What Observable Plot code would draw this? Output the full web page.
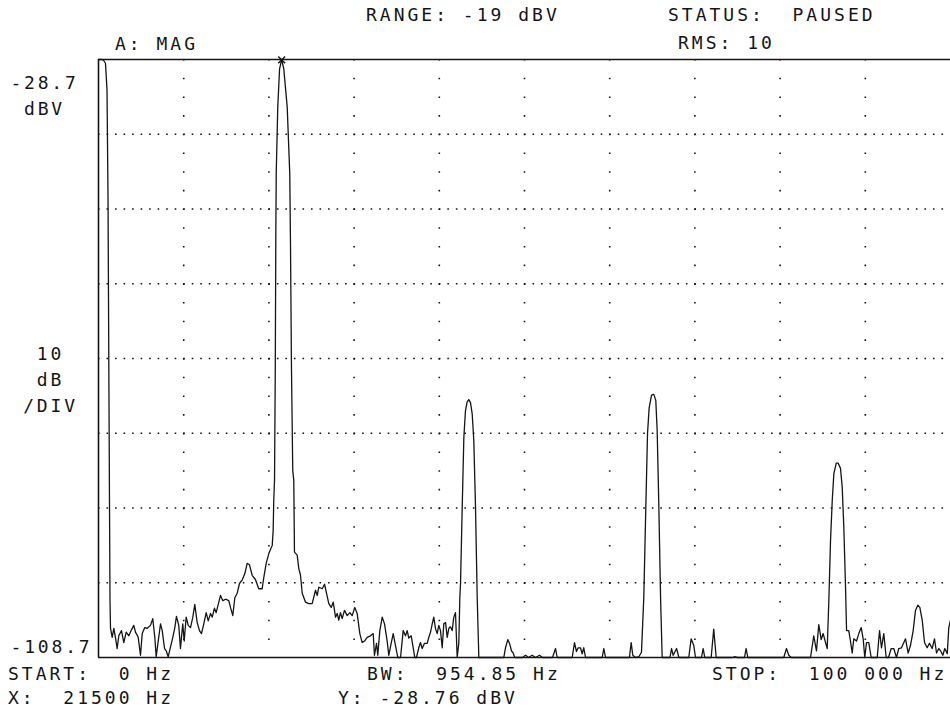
<!DOCTYPE html>
<html><head><meta charset="utf-8">
<script src="https://cdn.jsdelivr.net/npm/d3@7"></script>
<script src="https://cdn.jsdelivr.net/npm/@observablehq/plot@0.6"></script>
<style>
body{margin:0;background:#fff}
#wrap{position:relative;width:950px;height:713px;overflow:hidden;background:#fff}
#chart{position:absolute;left:0;top:0}
.lbl{position:absolute;white-space:pre;font-family:"DejaVu Sans Mono",monospace;font-size:18px;letter-spacing:3px;line-height:18px;color:#151515}
</style></head><body>
<div id="wrap"><div id="chart"></div></div>
<script>
// ---- DATA: spectrum trace as [frequency kHz, level dBV] ----
const traceDcAndFundamental = [
  [0,-28.7],[0.35,-28.7],[0.59,-28.8],[0.82,-29.2],[1.0,-32.8],[1.12,-47.6],[1.23,-74.3],[1.35,-101.1],[1.41,-104.8],[1.61,-106.0],
  [1.80,-104.8],[2.0,-106.1],[2.19,-107.5],[2.38,-105.8],[2.70,-105.1],[2.97,-106.7],[3.25,-105.3],[3.56,-105.8],[3.87,-105.0],[4.14,-104.4],
  [4.34,-105.3],[4.66,-106.0],[4.93,-108.4],[5.13,-105.5],[5.43,-104.7],[5.72,-104.8],[6.10,-104.4],[6.37,-103.5],[6.61,-106.0],[6.77,-108.6],
  [7.01,-106.5],[7.28,-104.2],[7.48,-105.1],[7.75,-107.5],[7.95,-107.8],[8.18,-108.6],[8.45,-107.3],[8.72,-106.0],[8.96,-104.7],[9.15,-103.2],
  [9.42,-104.4],[9.62,-107.5],[9.89,-104.2],[10.06,-106.5],[10.29,-103.3],[10.53,-104.4],[10.80,-104.7],[11.07,-103.3],[11.30,-101.6],[11.58,-104.0],
  [11.85,-105.1],[12.09,-105.5],[12.36,-104.2],[12.64,-102.7],[12.88,-103.8],[13.15,-102.8],[13.35,-103.3],[13.61,-102.1],[13.81,-102.7],[14.12,-101.3],
  [14.32,-100.4],[14.59,-101.1],[14.91,-100.9],[15.29,-101.1],[15.49,-102.0],[15.76,-103.1],[16.0,-100.7],[16.28,-100.1],[16.55,-98.8],[16.87,-98.3],
  [17.17,-97.5],[17.45,-96.1],[17.72,-96.3],[18.04,-97.7],[18.43,-98.3],[18.81,-99.5],[19.21,-99.5],[19.40,-98.0],[19.68,-96.1],[19.99,-94.8],
  [20.39,-93.7],[20.50,-91.7],[20.57,-87.7],[20.66,-85.0],[20.75,-70.0],[20.81,-52.9],[20.86,-44.0],[21.04,-35.1],[21.25,-30.0],[21.5,-28.7],
  [21.75,-30.0],[22.15,-35.1],[22.45,-44.0],[22.53,-52.9],[22.65,-70.0],[22.80,-83.7],[22.92,-85.0]
];
const traceNoiseBand = [
  [23.0,-94.6],[23.32,-95.0],[23.51,-96.8],[23.71,-97.7],[23.91,-100.1],[24.30,-101.3],[24.68,-101.5],[25.08,-101.5],[25.47,-99.7],[25.67,-100.4],
  [25.86,-99.3],[26.26,-99.5],[26.53,-98.9],[26.76,-100.1],[27.03,-101.5],[27.31,-102.0],[27.55,-101.3],[27.82,-103.3],[28.02,-102.8],[28.20,-103.7],
  [28.40,-102.7],[28.60,-103.5],[28.87,-102.4],[29.19,-103.1],[29.50,-102.7],[29.78,-103.1],[30.08,-102.0],[30.36,-102.8],[30.67,-105.5],[30.95,-106.7],
  [31.22,-106.5],[31.54,-106.0],[31.92,-105.8],[32.24,-105.5],[32.39,-108.4],[32.63,-106.8],[32.78,-108.4],[33.02,-105.1],[33.30,-103.3],[33.57,-104.2],
  [33.88,-106.5],[34.07,-108.4],[34.35,-106.8],[34.59,-105.5],[34.86,-107.1],[35.13,-108.7],[35.45,-108.7],[35.76,-105.1],[36.03,-105.8],[36.23,-105.1],
  [36.42,-106.1],[36.70,-105.8],[36.94,-107.4],[37.12,-108.7],[37.32,-108.7],[37.59,-107.4],[37.79,-106.7],[37.99,-107.5],[38.26,-106.8],[38.58,-106.8],
  [38.77,-106.0],[38.97,-105.3],[39.17,-104.2],[39.35,-103.3],[39.55,-104.8],[39.75,-105.5],[39.94,-104.4],[40.14,-105.1],[40.34,-107.4],[40.53,-104.2],
  [40.73,-104.0],[40.93,-106.0],[41.12,-104.8],[41.31,-104.6],[41.51,-105.1],[41.70,-103.3],[41.90,-102.7],[42.10,-108.7],[42.29,-106.8]
];
const traceSecondHarmonic = [
  [42.41,-100.7],[42.49,-98.8],[42.69,-88.6],[42.88,-79.3],[43.07,-75.7],[43.27,-74.5],[43.46,-74.2],[43.66,-74.6],[43.86,-76.1],[44.05,-79.7],
  [44.25,-88.6],[44.45,-100.7],[44.64,-108.7],[47.57,-108.7],[47.77,-107.4],[48.04,-106.3],[48.27,-106.9],[48.47,-107.8],[48.67,-108.1],[48.86,-108.7],
  [49.76,-108.7],[50.12,-108.4],[50.47,-108.7],[50.90,-108.4],[51.29,-108.7],[51.76,-108.4],[52.11,-108.7],[53.29,-108.7],[53.64,-107.5],[53.84,-108.7],
  [55.60,-108.7],[55.87,-106.7],[56.10,-107.9],[56.30,-107.4],[56.57,-107.4],[56.77,-108.2],[56.96,-107.4],[57.16,-108.7],[59.12,-108.7],[59.31,-107.5],
  [59.51,-108.7],[62.32,-108.7],[62.52,-106.7],[62.71,-108.4],[63.03,-108.7],[63.42,-108.6],[63.73,-108.0]
];
const traceThirdHarmonic = [
  [64.0,-100.7],[64.24,-88.6],[64.44,-78.7],[64.63,-75.3],[64.91,-73.6],[65.18,-73.5],[65.41,-74.3],[65.57,-78.3],[65.77,-88.6],[65.97,-100.7],
  [66.16,-108.7],[67.07,-108.7],[67.26,-107.5],[67.45,-108.4],[67.85,-107.5],[68.12,-108.7],[69.28,-108.7],[69.56,-106.2],[69.87,-107.1],[70.07,-108.7],
  [70.77,-108.7],[70.97,-107.5],[71.16,-108.7],[71.91,-108.7],[72.21,-104.9],[72.50,-108.7],[74.37,-108.7],[74.65,-108.6],[75.0,-108.7],[75.82,-108.7],
  [76.01,-107.5],[76.21,-108.7],[80.43,-108.7],[80.75,-107.5],[81.02,-108.4],[81.30,-108.7],[83.57,-108.7],[83.95,-105.8],[84.27,-107.8],[84.54,-104.3],
  [84.82,-106.3],[85.06,-105.5],[85.33,-106.7],[85.53,-107.5]
];
const traceFourthHarmonic = [
  [85.72,-101.1],[85.92,-93.0],[86.12,-87.7],[86.31,-84.1],[86.59,-82.7],[86.82,-82.7],[87.09,-83.4],[87.29,-85.9],[87.48,-91.3],[87.68,-99.3],
  [87.80,-105.1],[88.06,-105.1],[88.26,-106.5],[88.46,-108.1],[88.65,-106.2],[88.97,-106.5],[89.24,-105.5],[89.52,-104.7],[89.75,-106.2],[89.94,-108.7],
  [90.14,-106.7],[90.41,-106.7],[90.69,-108.7],[91.40,-108.7],[91.67,-105.1],[91.90,-107.4],[92.17,-105.5],[92.45,-108.7],[92.72,-108.7],[93.04,-107.5],
  [93.34,-107.5],[93.66,-108.7],[93.93,-107.5],[94.25,-107.4],[94.72,-106.2],[95.03,-108.1],[95.30,-107.1],[95.62,-105.1],[95.89,-102.4],[96.16,-101.7],
  [96.40,-102.0],[96.68,-103.7],[96.95,-106.7],[97.26,-107.4],[97.53,-106.8],[97.85,-107.5],[98.12,-106.2],[98.36,-108.1],[98.63,-107.5],[98.83,-107.8],
  [99.10,-108.4],[99.33,-107.5],[99.62,-108.2],[99.80,-104.7],[100.0,-103.7]
];
// marker (X / Y readout)
const markerKHz = [21.5];
const markerDbv = [-28.76];
// scale / grid ticks
const xDomainKHz = [0, 100];
const yDomainDbv = [-108.7, -28.7];
const xGridKHz = [10, 20, 30, 40, 50, 60, 70, 80, 90];
const yGridDbv = [-38.7, -48.7, -58.7, -68.7, -78.7, -88.7, -98.7];
const yTopTick = [-28.7], yMidTick = [-68.7], yBottomTick = [-108.7];
const yTopLabel = "-28.7\ndBV", yMidLabel = "10\ndB\n/DIV", yBottomLabel = "-108.7";
// readout texts
const headerTexts = ["RANGE: -19 dBV", "STATUS:  PAUSED", "A: MAG", "RMS: 10"];
const footerTexts = ["START:  0 Hz", "BW:  954.85 Hz", "STOP:  100 000 Hz", "X:  21500 Hz", "Y: -28.76 dBV"];

// ---- BUILD ----
const trace = [...traceDcAndFundamental, ...traceNoiseBand, ...traceSecondHarmonic, ...traceThirdHarmonic, ...traceFourthHarmonic]
  .map(([f, v]) => ({f, v}));
const marker = markerKHz.map((f, i) => ({f, v: markerDbv[i]}));
const ink = "#151515";
const font = "DejaVu Sans Mono";

const chart = Plot.plot({
  width: 950, height: 713,
  marginLeft: 98, marginRight: 0, marginTop: 59, marginBottom: 56,
  x: {domain: xDomainKHz, axis: null},
  y: {domain: yDomainDbv},
  style: {fontFamily: font, fontSize: "18px", letterSpacing: "2.8px", background: "#fff", color: ink},
  marks: [
    Plot.ruleY(yGridDbv, {stroke: ink, strokeWidth: 1.6, strokeDasharray: "1.6,6.92"}),
    Plot.ruleX(xGridKHz, {stroke: ink, strokeWidth: 1.6, strokeDasharray: "1.6,17.09"}),
    Plot.ruleY(yDomainDbv, {stroke: ink, strokeWidth: 1.6}),
    Plot.ruleX([xDomainKHz[0]], {stroke: ink, strokeWidth: 1.6}),
    Plot.line(trace, {x: "f", y: "v", stroke: ink, strokeWidth: 1.3, strokeLinejoin: "round"}),
    Plot.dot(marker, {x: "f", y: "v", symbol: "times", r: 3.2, stroke: ink, strokeWidth: 1.4}),
    Plot.axisY(yTopTick, {tickSize: 0, tickPadding: 54, textAnchor: "middle", lineAnchor: "top", dy: 12, lineHeight: 1.4, label: null, tickFormat: () => yTopLabel, fill: ink}),
    Plot.axisY(yMidTick, {tickSize: 0, tickPadding: 48, textAnchor: "middle", lineAnchor: "top", dy: -17, lineHeight: 1.45, label: null, tickFormat: () => yMidLabel, fill: ink}),
    Plot.axisY(yBottomTick, {tickSize: 0, tickPadding: 47, textAnchor: "middle", lineAnchor: "top", dy: -17, label: null, tickFormat: () => yBottomLabel, fill: ink})
  ]
});
const wrap = document.getElementById("wrap");
document.getElementById("chart").appendChild(chart);

// text placement (left px, top px)
const headerPos = [[366, 6], [668, 6], [115, 35], [678, 34]];
const footerPos = [[8, 665], [367, 665], [712, 665], [8, 689], [338, 689]];
function place(texts, pos) {
  texts.forEach((t, i) => {
    const s = document.createElement("span");
    s.className = "lbl";
    s.textContent = t;
    s.style.left = pos[i][0] + "px";
    s.style.top = pos[i][1] + "px";
    wrap.appendChild(s);
  });
}
place(headerTexts, headerPos);
place(footerTexts, footerPos);
</script>
</body></html>
